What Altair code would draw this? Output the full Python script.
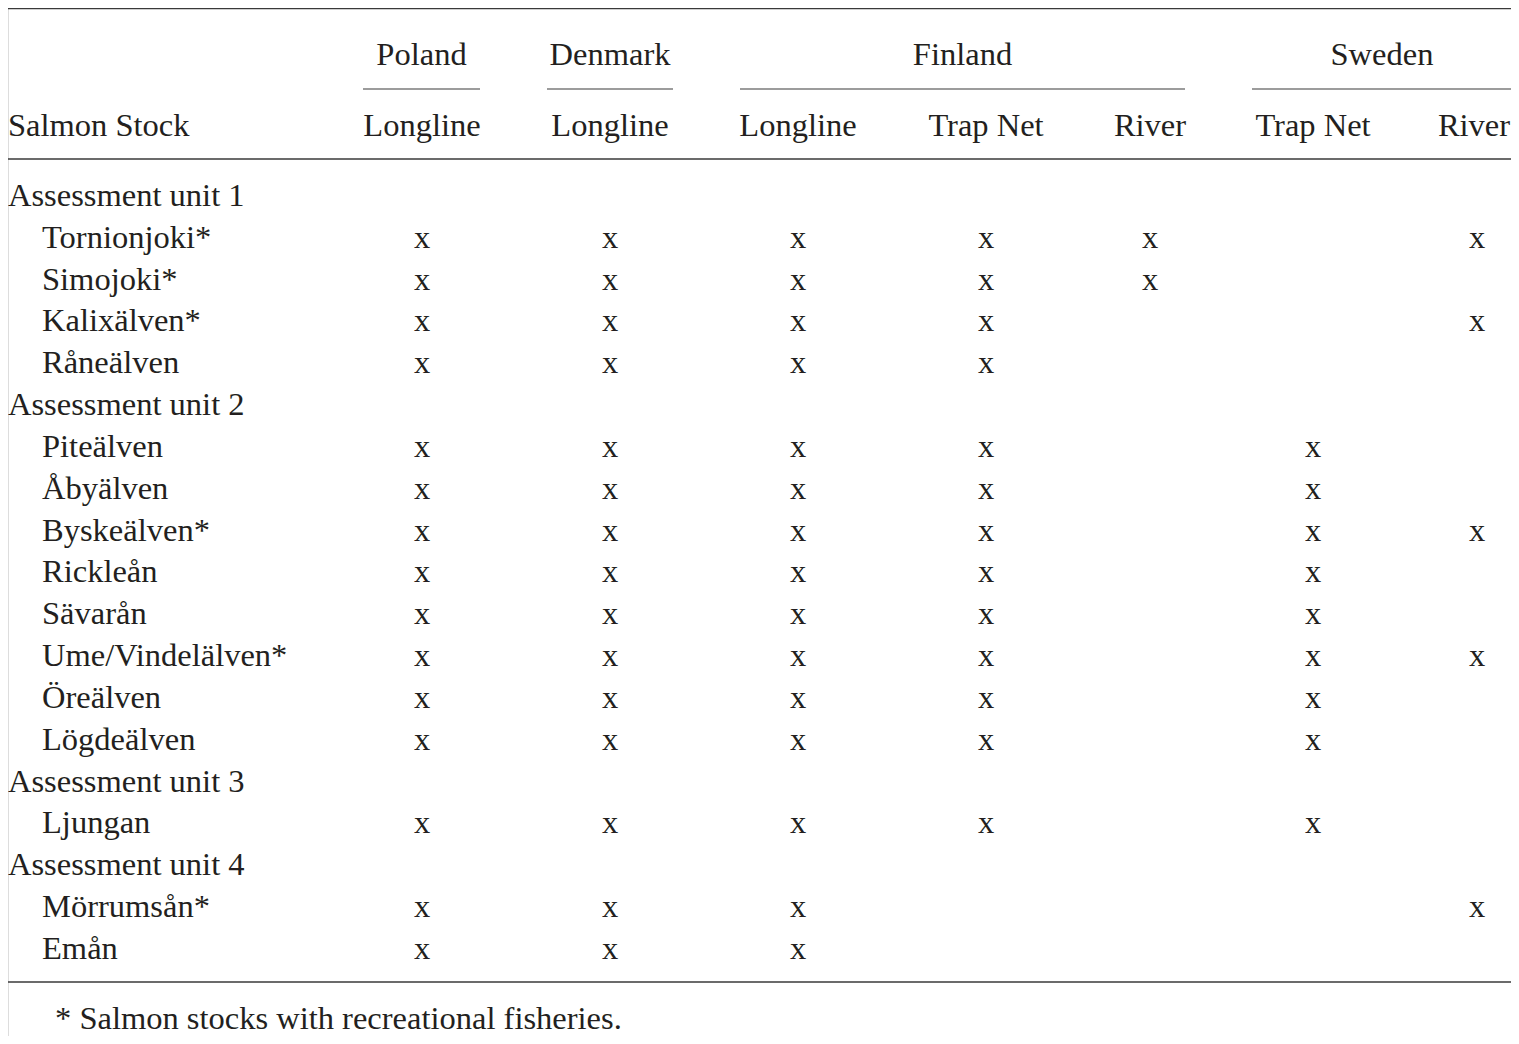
import altair as alt
import pandas as pd

# ---------------- data ----------------
countries = ["Poland", "Denmark", "Finland", "Sweden"]
gears = ["Longline", "Longline", "Longline", "Trap Net", "River", "Trap Net", "River"]

row_labels = [
    "Assessment unit 1", "Tornionjoki*", "Simojoki*", "Kalixälven*", "Råneälven",
    "Assessment unit 2", "Piteälven", "Åbyälven", "Byskeälven*", "Rickleån", "Sävarån",
    "Ume/Vindelälven*", "Öreälven", "Lögdeälven",
    "Assessment unit 3", "Ljungan",
    "Assessment unit 4", "Mörrumsån*", "Emån",
]
is_group = [1, 0, 0, 0, 0, 1, 0, 0, 0, 0, 0, 0, 0, 0, 1, 0, 1, 0, 0]
flags = [
    [0, 0, 0, 0, 0, 0, 0],
    [1, 1, 1, 1, 1, 0, 1],
    [1, 1, 1, 1, 1, 0, 0],
    [1, 1, 1, 1, 0, 0, 1],
    [1, 1, 1, 1, 0, 0, 0],
    [0, 0, 0, 0, 0, 0, 0],
    [1, 1, 1, 1, 0, 1, 0],
    [1, 1, 1, 1, 0, 1, 0],
    [1, 1, 1, 1, 0, 1, 1],
    [1, 1, 1, 1, 0, 1, 0],
    [1, 1, 1, 1, 0, 1, 0],
    [1, 1, 1, 1, 0, 1, 1],
    [1, 1, 1, 1, 0, 1, 0],
    [1, 1, 1, 1, 0, 1, 0],
    [0, 0, 0, 0, 0, 0, 0],
    [1, 1, 1, 1, 0, 1, 0],
    [0, 0, 0, 0, 0, 0, 0],
    [1, 1, 1, 0, 0, 0, 1],
    [1, 1, 1, 0, 0, 0, 0],
]
stub_header = "Salmon Stock"
footnote = "* Salmon stocks with recreational fisheries."

# ---------------- layout (page pixel coordinates) ----------------
W, H = 1519, 1044
col_x = [422, 610, 798, 986, 1150, 1313, 1477]
gear_label_x = [422, 610, 798, 986, 1150, 1313, 1474]
country_span = [(363, 480), (547, 673), (740, 1185), (1252, 1512)]
country_y = 55
span_rule_y = 89
gear_y = 126
first_row_y = 196
row_step = 41.83
stub_x = 8
indent_x = 42
table_left, table_right = 8, 1512
rules_y = [8.5, 159, 982]
foot_x, foot_y = 55, 1029
FONT = "Liberation Serif"
FS = 32.5
INK = "#231f20"

xs = alt.Scale(domain=[8, W - 8], range=[0, W - 16], nice=False, zero=False)
ys = alt.Scale(domain=[8, H - 8], range=[0, H - 16], nice=False, zero=False)

texts = []
for i, c in enumerate(countries):
    a, b = country_span[i]
    texts.append(dict(x=(a + b) / 2, y=country_y, t=c, al="center"))
for j, g in enumerate(gears):
    texts.append(dict(x=gear_label_x[j], y=gear_y, t=g, al="center"))
texts.append(dict(x=stub_x, y=gear_y, t=stub_header, al="left"))
for r, lab in enumerate(row_labels):
    yy = first_row_y + r * row_step
    texts.append(dict(x=stub_x if is_group[r] else indent_x, y=yy, t=lab, al="left"))
    for j, f in enumerate(flags[r]):
        if f:
            texts.append(dict(x=col_x[j], y=yy, t="x", al="center"))
tdf = pd.DataFrame(texts)
fdf = pd.DataFrame([dict(x=foot_x, y=foot_y, t=footnote)])

rules = []
for yy in rules_y:
    rules.append(dict(x=table_left, x2=table_right, y=yy, w=1.4))
for a, b in country_span:
    rules.append(dict(x=a, x2=b, y=span_rule_y, w=1.2))
rdf = pd.DataFrame(rules)

enc = dict(
    x=alt.X("x:Q", scale=xs, axis=None),
    y=alt.Y("y:Q", scale=ys, axis=None),
)

left = alt.Chart(tdf[tdf.al == "left"]).mark_text(
    align="left", baseline="middle", font=FONT, fontSize=FS, color=INK
).encode(text="t:N", **enc)
center = alt.Chart(tdf[tdf.al == "center"]).mark_text(
    align="center", baseline="middle", font=FONT, fontSize=FS, color=INK
).encode(text="t:N", **enc)
foot = alt.Chart(fdf).mark_text(
    align="left", baseline="alphabetic", font=FONT, fontSize=FS, color=INK
).encode(text="t:N", **enc)
rule_layer = alt.Chart(rdf).mark_rule(color="#3a3a3a").encode(
    x=alt.X("x:Q", scale=xs, axis=None),
    x2="x2:Q",
    y=alt.Y("y:Q", scale=ys, axis=None),
    strokeWidth=alt.StrokeWidth("w:Q", scale=None, legend=None),
)

chart = (
    alt.layer(rule_layer, left, center, foot)
    .properties(width=W - 16, height=H - 16, padding=0, autosize="none")
    .configure_view(strokeWidth=0, fill="white")
    .configure_axis(domain=False, ticks=False, labels=False, grid=False)
    .configure(background="white")
)
chart.save("out.html", embed_options={"renderer": "svg", "actions": False})
